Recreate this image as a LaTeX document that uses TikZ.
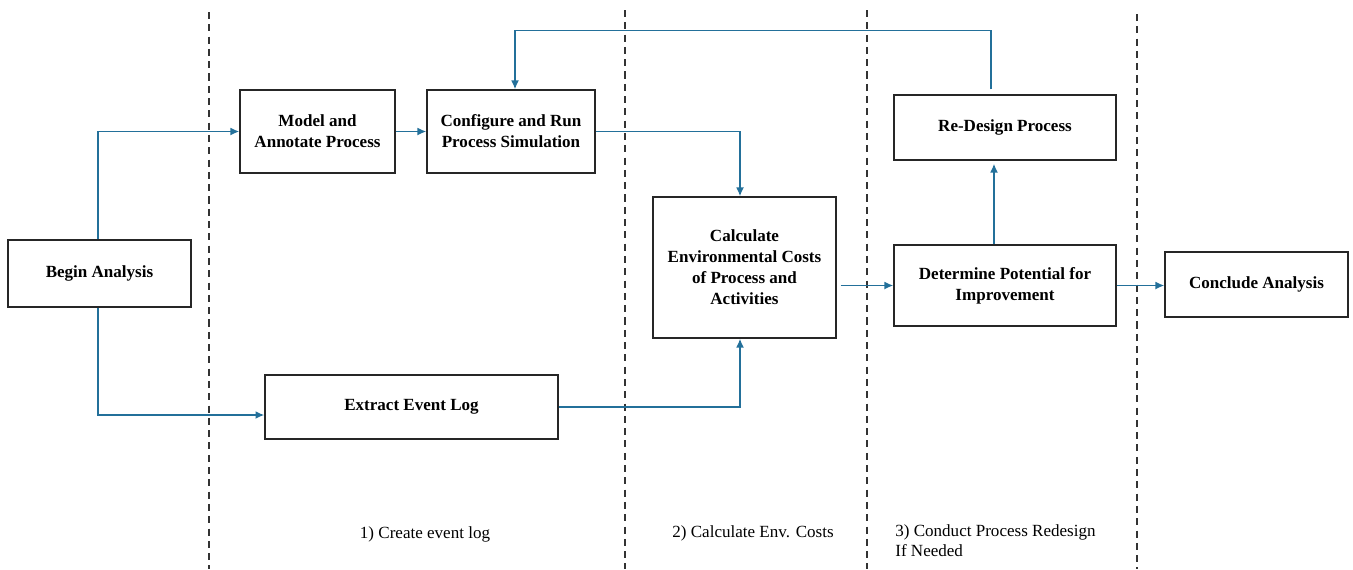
\documentclass[tikz,border=0pt]{standalone}
\usepackage{fontspec}
\setmainfont{Liberation Serif}
\usetikzlibrary{arrows.meta}
\definecolor{flow}{HTML}{23709A}
\begin{document}
\begin{tikzpicture}[x=0.02cm,y=-0.02cm,
 box/.style={draw=black!85,line width=0.85pt,rectangle,inner sep=0pt,align=center,font=\fontsize{9.7}{12}\selectfont\bfseries},
 flowline/.style={draw=flow,line width=0.85pt,-{Latex[length=5pt,width=4.5pt]}},
 lane/.style={draw=black!80,line width=0.6pt,dash pattern=on 4pt off 3pt},
 lbl/.style={font=\fontsize{9.7}{11.5}\selectfont,inner sep=0pt}]
\useasboundingbox (0,0) rectangle (1353,569);
% swimlane separators
\draw[lane] (209,12) -- (209,569);
\draw[lane] (625,10) -- (625,569);
\draw[lane] (867,10) -- (867,569);
\draw[lane] (1137,14) -- (1137,569);
% boxes
\node[box,minimum width=3.66cm,minimum height=1.34cm] (begin) at (99.5,273.5) {\raisebox{-1pt}{Begin Analysis}};
\node[box,minimum width=3.1cm,minimum height=1.66cm] (model) at (317.5,131.5) {Model and\\Annotate Process};
\node[box,minimum width=3.36cm,minimum height=1.66cm] (config) at (511,131.5) {Configure and Run\\Process Simulation};
\node[box,minimum width=3.66cm,minimum height=2.82cm] (calc) at (744.5,267.5) {Calculate\\Environmental Costs\\of Process and\\Activities};
\node[box,minimum width=5.86cm,minimum height=1.28cm] (extract) at (411.5,407) {\raisebox{-1pt}{Extract Event Log}};
\node[box,minimum width=4.44cm,minimum height=1.3cm] (redesign) at (1005,127.5) {\raisebox{-1pt}{Re-Design Process}};
\node[box,minimum width=4.44cm,minimum height=1.62cm] (determine) at (1005,285.5) {Determine Potential for\\Improvement};
\node[box,minimum width=3.66cm,minimum height=1.3cm] (conclude) at (1256.5,284.5) {\raisebox{-1pt}{Conclude Analysis}};
% labels
\node[lbl] (l1) at (425,534) {1) Create event log};
\node[lbl] (l2) at (753,533) {2) Calculate Env. Costs};
\node[lbl,align=left,anchor=north west] (l3) at (895,524) {3) Conduct Process Redesign\\If Needed};
% connectors
\draw[flowline] ([xshift=-0.03cm]begin.north) |- (model.west);
\draw[flowline] ([xshift=-0.03cm]begin.south) |- ([yshift=-0.16cm]extract.west);
\draw[flowline] (model) -- (config);
\draw[flowline] (config.east) -| ([xshift=-0.09cm]calc.north);
\draw[flowline] (extract.east) -| ([xshift=-0.09cm]calc.south);
\draw[flowline] ([xshift=0.08cm]calc.east |- determine.west) -- (determine.west);
\draw[flowline] ([xshift=-0.22cm]determine.north) -- ([xshift=-0.22cm,yshift=-0.06cm]redesign.south);
\draw[flowline] ([xshift=-0.28cm,yshift=0.1cm]redesign.north) |- ([xshift=0.08cm,yshift=1.18cm]config.north) -- ([xshift=0.08cm]config.north);
\draw[flowline] (determine.east) -- (determine.east -| conclude.west);
\end{tikzpicture}
\end{document}
